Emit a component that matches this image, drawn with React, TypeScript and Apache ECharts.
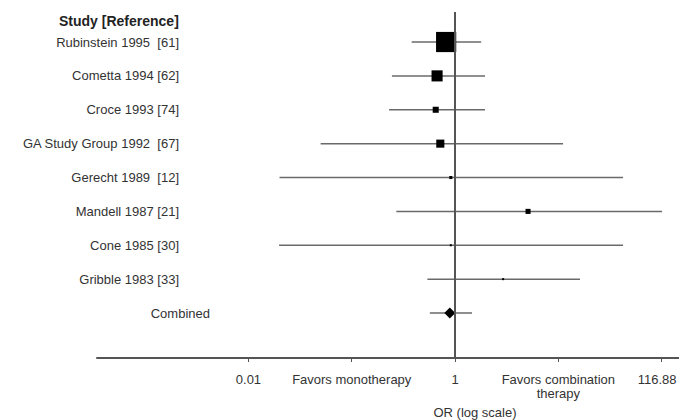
import React, { useEffect, useRef } from "react";
import * as echarts from "echarts";

const studies = [
  "Rubinstein 1995  [61]",
  "Cometta 1994 [62]",
  "Croce 1993 [74]",
  "GA Study Group 1992  [67]",
  "Gerecht 1989  [12]",
  "Mandell 1987 [21]",
  "Cone 1985 [30]",
  "Gribble 1983 [33]",
];
const oddsRatio = [0.82, 0.67, 0.65, 0.72, 0.91, 5.09, 0.91, 2.92];
const ciLower = [0.38, 0.245, 0.23, 0.05, 0.02, 0.27, 0.0198, 0.54];
const ciUpper = [1.79, 1.95, 1.95, 11.1, 42.3, 101, 42.3, 16.2];
const weights = [60.3, 18.2, 5.4, 9.7, 1.4, 3.8, 0.6, 0.6];

const combinedLabel = "Combined";
const combinedOR = [0.89];
const combinedLower = [0.57];
const combinedUpper = [1.46];

const tickValues = [0.01, 0.1, 1, 10, 100];
const tickLabels = ["0.01", "Favors monotherapy", "1", "Favors combination\ntherapy", "116.88"];

const FONT = "'Liberation Sans', Arial, sans-serif";

export default function App() {
  const ref = useRef<HTMLDivElement>(null);
  useEffect(() => {
    document.body.style.margin = "0";
    if (!ref.current) return;
    const chart = echarts.init(ref.current, null, { renderer: "svg" });
    const L = Math.log10;
    const n = studies.length;
    const ciData = studies.map((_, i) => [L(ciLower[i]), L(ciUpper[i]), i]);
    ciData.push([L(combinedLower[0]), L(combinedUpper[0]), n]);
    const pointData = studies.map((_, i) => ({
      value: [L(oddsRatio[i]), i],
      symbolSize: Math.sqrt(weights[i]) * 2.6,
    }));
    const yRange = { min: -0.886, max: 9.328 };
    chart.setOption({
      animation: false,
      textStyle: { fontFamily: FONT },
      title: {
        text: "Study [Reference]",
        left: 54,
        top: 9,
        textStyle: { fontSize: 14, fontWeight: "bold", color: "#222", fontFamily: FONT },
      },
      graphic: [
        {
          type: "text",
          x: 475,
          y: 412,
          style: {
            text: "OR (log scale)",
            fontSize: 13,
            fill: "#333",
            align: "center",
            verticalAlign: "middle",
            fontFamily: FONT,
          },
        },
      ],
      grid: {
        left: 97,
        right: 0,
        top: 12,
        bottom: 62,
        containLabel: false,
        outerBoundsMode: "none",
      },
      xAxis: {
        type: "value",
        min: -3.466,
        max: 2.168,
        axisLine: { show: true, onZero: false, lineStyle: { color: "#555", width: 2 } },
        axisTick: {
          show: true,
          length: 4,
          customValues: tickValues.map((t) => L(t)),
          lineStyle: { color: "#555", width: 1 },
        },
        axisLabel: {
          customValues: tickValues.map((t) => L(t)),
          formatter: (v: number) => {
            const idx = tickValues.findIndex((t) => Math.abs(L(t) - v) < 1e-6);
            if (idx < 0) return "";
            if (idx === tickValues.length - 1) return "{r|" + tickLabels[idx] + "}";
            return tickLabels[idx];
          },
          rich: {
            r: { fontSize: 13, color: "#333", fontFamily: FONT, padding: [0, 9, 0, 0] },
          },
          fontSize: 13,
          color: "#333",
          margin: 14,
          lineHeight: 14,
          fontFamily: FONT,
        },
        splitLine: { show: false },
      },
      yAxis: [
        {
          type: "value",
          inverse: true,
          ...yRange,
          axisLine: { show: false },
          axisTick: { show: false },
          splitLine: { show: false },
          axisLabel: {
            customValues: studies.map((_, i) => i),
            formatter: (v: number) => studies[Math.round(v)] ?? "",
            margin: -82,
            fontSize: 13,
            color: "#333",
            fontFamily: FONT,
          },
        },
        {
          type: "value",
          position: "left",
          inverse: true,
          ...yRange,
          axisLine: { show: false },
          axisTick: { show: false },
          splitLine: { show: false },
          axisLabel: {
            customValues: [n],
            formatter: () => combinedLabel,
            margin: -113,
            fontSize: 13,
            color: "#333",
            fontFamily: FONT,
          },
        },
      ],
      series: [
        {
          type: "custom",
          yAxisIndex: 0,
          data: ciData,
          renderItem: (params: any, api: any) => {
            const p1 = api.coord([api.value(0), api.value(2)]);
            const p2 = api.coord([api.value(1), api.value(2)]);
            return {
              type: "line",
              shape: { x1: p1[0], y1: p1[1], x2: p2[0], y2: p2[1] },
              style: { stroke: "#6a6a6a", lineWidth: 1.5 },
            };
          },
          z: 1,
        },
        {
          type: "scatter",
          yAxisIndex: 0,
          symbol: "rect",
          itemStyle: { color: "#000", opacity: 1 },
          data: pointData,
          z: 3,
          markLine: {
            silent: true,
            symbol: ["none", "none"],
            label: { show: false },
            lineStyle: { color: "#555", width: 2, type: "solid" },
            data: [{ xAxis: 0 }],
          },
        },
        {
          type: "scatter",
          yAxisIndex: 0,
          symbol: "diamond",
          symbolSize: [11, 11],
          itemStyle: { color: "#000", opacity: 1 },
          data: [[L(combinedOR[0]), n]],
          z: 4,
        },
      ],
    });
    return () => chart.dispose();
  }, []);
  return <div ref={ref} style={{ width: 679, height: 420 }} />;
}
